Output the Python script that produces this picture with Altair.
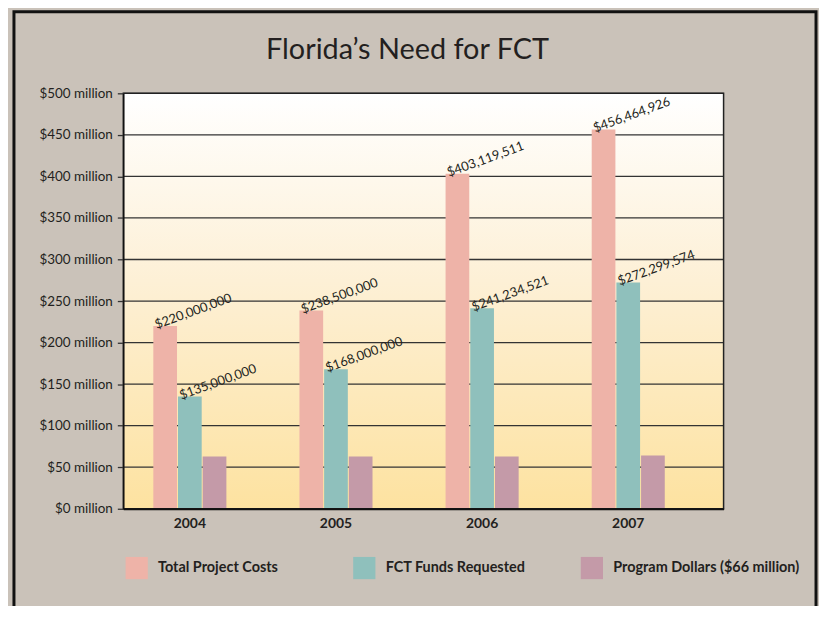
import altair as alt
import pandas as pd

years = ["2004", "2005", "2006", "2007"]
series = ["Total Project Costs", "FCT Funds Requested", "Program Dollars ($66 million)"]
total_costs = [220000000, 238500000, 403119511, 456464926]
fct_requested = [135000000, 168000000, 241234521, 272299574]
program_dollars = [63000000, 63000000, 63000000, 64000000]
tick_values = [0, 50000000, 100000000, 150000000, 200000000, 250000000,
               300000000, 350000000, 400000000, 450000000, 500000000]
colors = ["#eeb3a8", "#8fc0bc", "#c49aa8"]
title_text = "Florida’s Need for FCT"

W, H = 604, 418
FONT = "Lato"
INK = "#231f20"

rows = []
for i, yr in enumerate(years):
    for s, vals in zip(series, [total_costs, fct_requested, program_dollars]):
        rows.append({"year": yr, "series": s, "value": vals[i],
                     "label": "${:,}".format(vals[i])})
df = pd.DataFrame(rows)
grid_df = pd.DataFrame({"v": tick_values})
one = pd.DataFrame({"k": [0]})

yscale = alt.Scale(domain=[0, 500000000], nice=False, zero=True)
xscale = alt.Scale(paddingInner=0.5, paddingOuter=0.304, align=0.338)
oscale = alt.Scale(domain=series, paddingInner=0.04, paddingOuter=0)

yaxis = alt.Axis(values=tick_values, grid=False,
                 labelExpr="'$' + (datum.value/1000000) + ' million'",
                 labelFont=FONT, labelFontSize=13.5, labelColor=INK,
                 tickSize=6, tickColor="#333333", tickWidth=1.3,
                 domainColor="#111111", domainWidth=1.5,
                 labelPadding=5, zindex=1)
xaxis = alt.Axis(labelFontWeight="bold", labelFontSize=14, labelFont=FONT,
                 labelColor=INK, ticks=False, domainColor="#111111",
                 domainWidth=2, labelPadding=8, labelAngle=0, zindex=1)

bg = alt.Chart(one).mark_rect(
    fill=alt.Gradient(gradient="linear", x1=0, x2=0, y1=0, y2=1,
                      stops=[alt.GradientStop(color="#ffffff", offset=0),
                             alt.GradientStop(color="#fdf0d6", offset=0.45),
                             alt.GradientStop(color="#fde2a0", offset=1)])
).encode(x=alt.value(0), x2=alt.value(W), y=alt.value(0), y2=alt.value(H))

grid = alt.Chart(grid_df).mark_rule(color="#333333", strokeWidth=1.3).encode(
    y=alt.Y("v:Q", scale=yscale, axis=yaxis, title=None),
    x=alt.value(0), x2=alt.value(W))

bars = alt.Chart(df).mark_bar().encode(
    x=alt.X("year:N", sort=years, scale=xscale, title=None, axis=xaxis),
    xOffset=alt.XOffset("series:N", sort=series, scale=oscale),
    y=alt.Y("value:Q", scale=yscale, title=None, axis=yaxis),
    color=alt.Color("series:N", sort=series,
                    scale=alt.Scale(domain=series, range=colors),
                    legend=alt.Legend(orient="none", legendX=2, legendY=466,
                                      direction="horizontal", title=None,
                                      symbolType="square", symbolSize=500,
                                      symbolStrokeWidth=0, symbolOpacity=1,
                                      labelFont=FONT, labelFontSize=14.5,
                                      labelFontWeight="bold", labelColor=INK,
                                      labelOffset=10, gridAlign="all",
                                      columnPadding=8, padding=0,
                                      labelLimit=300)),
)

text = alt.Chart(df).transform_filter(
    alt.datum.series != series[2]
).mark_text(angle=340, align="left", baseline="alphabetic", dx=-9, dy=0,
            font=FONT, fontSize=13, color=INK).encode(
    x=alt.X("year:N", sort=years, scale=xscale, title=None, axis=xaxis),
    xOffset=alt.XOffset("series:N", sort=series, scale=oscale),
    y=alt.Y("value:Q", scale=yscale, title=None, axis=yaxis),
    text="label:N")

plot_border = alt.Chart(one).mark_rect(filled=False, stroke="#222222", strokeWidth=1.5).encode(
    x=alt.value(0), x2=alt.value(W), y=alt.value(0), y2=alt.value(H))

frame = alt.Chart(one).mark_rect(filled=False, stroke="#111111", strokeWidth=3).encode(
    x=alt.value(-110), x2=alt.value(697), y=alt.value(-82), y2=alt.value(700))

title = alt.Chart(one).mark_text(text=title_text, font=FONT, fontSize=29,
                                 color=INK, align="center",
                                 baseline="alphabetic").encode(
    x=alt.value(286), y=alt.value(-35))

chart = alt.layer(bg, grid, bars, text, plot_border, frame, title).properties(
    width=W, height=H,
    autosize=alt.AutoSizeParams(type="none"),
    padding={"left": 116, "top": 84, "right": 96, "bottom": 96},
    background="#cac2b9",
).configure_view(stroke=None)

chart.save("out.html", embed_options={"renderer": "svg", "actions": False})
